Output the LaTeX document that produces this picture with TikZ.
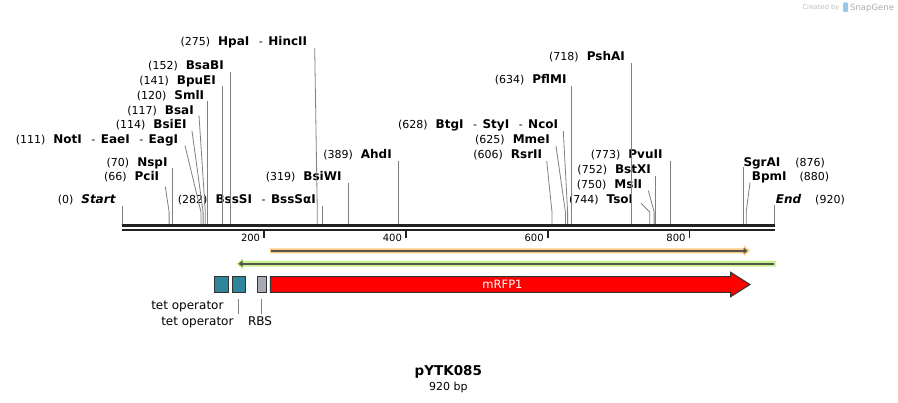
\documentclass[tikz,border=0pt]{standalone}
\usepackage{fontspec}
\setmainfont{DejaVu Sans}
\usetikzlibrary{arrows.meta}
\definecolor{leadc}{RGB}{128,128,128}
\definecolor{bbc}{RGB}{34,34,34}
\definecolor{tealc}{RGB}{49,133,155}
\definecolor{rbsc}{RGB}{166,170,178}
\definecolor{outc}{RGB}{51,51,51}
\definecolor{orhalo}{RGB}{250,202,130}
\definecolor{grhalo}{RGB}{198,240,140}
\definecolor{innerc}{RGB}{85,85,72}
\definecolor{wmgray}{RGB}{190,190,190}
\definecolor{wmlogo}{RGB}{150,200,232}
\newcommand\enz[1]{{\fontsize{12}{14}\selectfont\bfseries #1}}
\newcommand\enzi[1]{{\fontsize{12}{14}\selectfont\bfseries\itshape #1}}
\newcommand\dsh{\hspace{9.5pt}-\hspace{5.5pt}}
\tikzset{
  lab/.style={inner sep=0pt, font=\fontsize{11}{13}\selectfont},
  L/.style={lab, anchor=base east},
  R/.style={lab, anchor=base west},
  lead/.style={draw=leadc, line width=0.8pt},
  tickmark/.style={draw=bbc, line width=1.8pt},
  ticklab/.style={inner sep=0pt, anchor=base east, font=\fontsize{10}{12}\selectfont},
  fbox/.style={draw=outc, line width=1pt, inner sep=0pt, minimum height=15.6pt},
  flab/.style={inner sep=0pt, font=\fontsize{12}{14}\selectfont},
}
\begin{document}
\begin{tikzpicture}[x=1pt,y=-1pt]
\useasboundingbox (0,0) rectangle (898,403);

% watermark
\node[inner sep=0pt, anchor=base west, text=wmgray, font=\fontsize{6.7}{8}\selectfont] (wm1) at (802.3,9.5) {Created by};
\fill[wmlogo, rounded corners=1pt] (843,2.5) rectangle (848,12);
\node[inner sep=0pt, anchor=base west, text=wmgray!90!black, font=\fontsize{8.5}{10}\selectfont] (wm2) at (850,10.2) {SnapGene};

% backbone
\draw[bbc, line width=3.3pt] (122.3,225.7) -- (774.6,225.7);
\draw[bbc, line width=2pt] (122.3,229.7) -- (774.6,229.7);

% ticks
\draw[tickmark] (264.1,230.7) -- (264.1,237.8);
\draw[tickmark] (405.9,230.7) -- (405.9,237.8);
\draw[tickmark] (547.7,230.7) -- (547.7,237.8);
\draw[tickmark] (689.5,230.7) -- (689.5,237.8);
\node[ticklab] (t200) at (260.3,241.3) {200};
\node[ticklab] (t400) at (402.1,241.3) {400};
\node[ticklab] (t600) at (543.9,241.3) {600};
\node[ticklab] (t800) at (685.7,241.3) {800};

% site coordinates on backbone
\coordinate (s0) at (122.3,224);
\coordinate (s66) at (169.1,224);
\coordinate (s70) at (171.9,224);
\coordinate (s111) at (201.0,224);
\coordinate (s114) at (203.1,224);
\coordinate (s117) at (205.3,224);
\coordinate (s120) at (207.4,224);
\coordinate (s141) at (222.3,224);
\coordinate (s152) at (230.1,224);
\coordinate (s275) at (317.3,224);
\coordinate (s282) at (322.2,224);
\coordinate (s319) at (348.5,224);
\coordinate (s389) at (398.1,224);
\coordinate (s606) at (552.0,224);
\coordinate (s625) at (565.4,224);
\coordinate (s628) at (567.6,224);
\coordinate (s634) at (571.8,224);
\coordinate (s718) at (631.4,224);
\coordinate (s744) at (649.8,224);
\coordinate (s750) at (654.1,224);
\coordinate (s752) at (655.5,224);
\coordinate (s773) at (670.4,224);
\coordinate (s876) at (743.4,224);
\coordinate (s880) at (746.2,224);
\coordinate (s920) at (774.6,224);
\coordinate (bend) at (0,212);

% enzyme labels (left side)
\node[L] (l275) at (307.3,45.7) {(275)\hspace{8pt}\enz{HpaI}\dsh\enz{HincII}};
\node[L] (l152) at (224,69.7) {(152)\hspace{8pt}\enz{BsaBI}};
\node[L] (l141) at (216,84.3) {(141)\hspace{8pt}\enz{BpuEI}};
\node[L] (l120) at (204.3,99.7) {(120)\hspace{8pt}\enz{SmlI}};
\node[L] (l117) at (194,114.3) {(117)\hspace{8pt}\enz{BsaI}};
\node[L] (l114) at (186.7,129) {(114)\hspace{8pt}\enz{BsiEI}};
\node[L] (l111) at (178.3,143.3) {(111)\hspace{8pt}\enz{NotI}\dsh\enz{EaeI}\dsh\enz{EagI}};
\node[L] (l70) at (167.7,166.3) {(70)\hspace{8pt}\enz{NspI}};
\node[L] (l66) at (159.3,180.7) {(66)\hspace{8pt}\enz{PciI}};
\node[L] (l0) at (115.7,204) {(0)\hspace{8pt}\enzi{Start}};
\node[L] (l282) at (316,204) {(282)\hspace{8pt}\enz{BssSI}\dsh\enz{BssSαI}};
\node[L] (l319) at (341.7,180.7) {(319)\hspace{8pt}\enz{BsiWI}};
\node[L] (l389) at (392,159) {(389)\hspace{8pt}\enz{AhdI}};
\node[L] (l628) at (558.3,129) {(628)\hspace{8pt}\enz{BtgI}\dsh\enz{StyI}\dsh\enz{NcoI}};
\node[L] (l625) at (550,143.3) {(625)\hspace{8pt}\enz{MmeI}};
\node[L] (l606) at (542.3,159) {(606)\hspace{8pt}\enz{RsrII}};
\node[L] (l634) at (566.7,84) {(634)\hspace{8pt}\enz{PflMI}};
\node[L] (l718) at (625,60.7) {(718)\hspace{8pt}\enz{PshAI}};
\node[L] (l773) at (662.7,159) {(773)\hspace{8pt}\enz{PvuII}};
\node[L] (l752) at (651,174) {(752)\hspace{8pt}\enz{BstXI}};
\node[L] (l750) at (642.3,188.3) {(750)\hspace{8pt}\enz{MslI}};
\node[L] (l744) at (633.3,204) {(744)\hspace{8pt}\enz{TsoI}};
% right side
\node[R] (l876) at (743.3,166.3) {\enz{SgrAI}\hspace{15pt}(876)};
\node[R] (l880) at (751.7,180.7) {\enz{BpmI}\hspace{13pt}(880)};
\node[R] (l920) at (775.7,204) {\enzi{End}\hspace{14pt}(920)};

% leader lines
\draw[lead] (314.7,48) -- (s275 |- bend) -- (s275);
\draw[lead] (230.1,71.7) -- (s152);
\draw[lead] (222.3,86) -- (s141);
\draw[lead] (207.4,101) -- (s120);
\draw[lead] (199,115.5) -- (s117 |- bend) -- (s117);
\draw[lead] (192,131) -- (s114 |- bend) -- (s114);
\draw[lead] (185,145.5) -- (s111 |- bend) -- (s111);
\draw[lead] (171.9,168) -- (s70);
\draw[lead] (165.3,186.5) -- (s66 |- bend) -- (s66);
\draw[lead] (122.3,206) -- (s0);
\draw[lead] (322.2,206.5) -- (s282);
\draw[lead] (348.5,183) -- (s319);
\draw[lead] (398.1,161) -- (s389);
\draw[lead] (563.3,131) -- (s628 |- bend) -- (s628);
\draw[lead] (556,146) -- (s625 |- bend) -- (s625);
\draw[lead] (546.7,161) -- (s606 |- bend) -- (s606);
\draw[lead] (571.8,86.5) -- (s634);
\draw[lead] (631.4,63) -- (s718);
\draw[lead] (670.4,161) -- (s773);
\draw[lead] (655.5,176) -- (s752);
\draw[lead] (648.3,190.5) -- (s750 |- bend) -- (s750);
\draw[lead] (641,203.3) -- (s744 |- bend) -- (s744);
\draw[lead] (743.4,167.5) -- (s876);
\draw[lead] (750,182.5) -- (s880 |- bend) -- (s880);
\draw[lead] (774.6,205) -- (s920);

% orange feature (forward)
\fill[orhalo] (270,248.3) -- (744,248.3) -- (744,245.5) -- (750,250.8) -- (744,256) -- (744,253.3) -- (270,253.3) -- cycle;
\draw[innerc, line width=1.8pt, -{Triangle[length=4pt,width=6pt]}] (271,250.8) -- (747.5,250.8);

% green feature (reverse)
\fill[grhalo] (776,261) -- (243,261) -- (243,258.3) -- (236.5,263.8) -- (243,269.3) -- (243,266.7) -- (776,266.7) -- cycle;
\draw[innerc, line width=1.8pt, -{Triangle[length=4pt,width=6pt]}] (774,263.8) -- (238.5,263.8);

% features
\node[fbox, fill=tealc, minimum width=14.7pt] (tet1) at (221.35,284.5) {};
\node[fbox, fill=tealc, minimum width=13.7pt] (tet2) at (238.85,284.5) {};
\node[fbox, fill=rbsc, minimum width=9pt] (rbs) at (261.8,284.5) {};
\draw[draw=outc, line width=1pt, fill=red] (270.3,276.7) -- (730.7,276.7) -- (730.7,272.3) -- (750,284.5) -- (730.7,296.7) -- (730.7,292.3) -- (270.3,292.3) -- cycle;
\node[inner sep=0pt, anchor=east, text=white, font=\fontsize{11.5}{13}\selectfont] (mrfp) at (522.7,284.5) {mRFP1};

\coordinate (ya) at (0,299);
\coordinate (yb) at (0,314);
\draw[lead] (tet2.south |- ya) -- (tet2.south |- yb);
\draw[lead] (rbs.south |- ya) -- (rbs.south |- yb);
\node[flab, anchor=base east] (ltet1) at (223.7,309.8) {tet operator};
\node[flab, anchor=base east] (ltet2) at (233.7,325.8) {tet operator};
\node[flab, anchor=base] (lrbs) at (260,325.8) {RBS};

% title
\node[inner sep=0pt, font=\fontsize{13.5}{15}\selectfont\bfseries] (title) at (448.3,371.7) {pYTK085};
\node[inner sep=0pt, font=\fontsize{11}{13}\selectfont] (size) at (448.3,387) {920 bp};
\end{tikzpicture}
\end{document}
